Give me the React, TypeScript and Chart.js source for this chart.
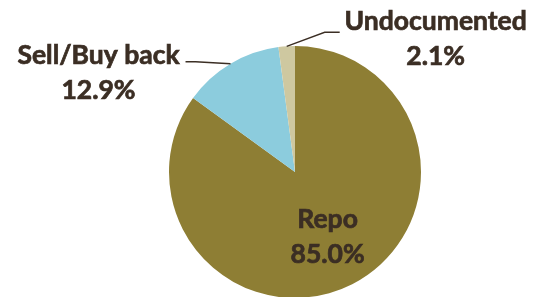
import React, { useEffect, useRef } from "react";
import { Chart, registerables } from "chart.js";

Chart.register(...registerables);

const categories = ["Repo", "Sell/Buy back", "Undocumented"];
const shares = [85.0, 12.9, 2.1];
const colors = ["#8E7E34", "#8CCCDD", "#CEC8A0"];

const TEXT = "#3B2E24";
const FONT = "bold 26.5px Lato, 'Open Sans', sans-serif";

const labelPlugin = {
  id: "pieLabels",
  afterDatasetsDraw(chart: any) {
    const ctx = chart.ctx;
    const meta = chart.getDatasetMeta(0);
    const arcs = meta.data;
    ctx.save();
    ctx.font = FONT;
    ctx.fillStyle = TEXT;
    ctx.strokeStyle = TEXT;
    ctx.textAlign = "center";
    ctx.textBaseline = "alphabetic";

    const text = (s: string, x: number, y: number) => {
      ctx.lineWidth = 0.7;
      ctx.fillText(s, x, y);
      ctx.strokeText(s, x, y);
    };

    const edge = (arc: any, rf: number) => {
      const mid = (arc.startAngle + arc.endAngle) / 2;
      return {
        x: arc.x + Math.cos(mid) * arc.outerRadius * rf,
        y: arc.y + Math.sin(mid) * arc.outerRadius * rf,
      };
    };

    // Repo: inside
    {
      const p = edge(arcs[0], 0.57);
      text(categories[0], p.x, p.y - 8);
      text(shares[0].toFixed(1) + "%", p.x, p.y + 27);
    }
    // Sell/Buy back: left, leader line
    {
      const p = edge(arcs[1], 1);
      ctx.lineWidth = 1.3;
      ctx.beginPath();
      ctx.moveTo(p.x, p.y);
      ctx.lineTo(p.x - 35, p.y - 2);
      ctx.lineTo(p.x - 45, p.y - 2);
      ctx.stroke();
      const lx = p.x - 132;
      text(categories[1], lx, p.y);
      text(shares[1].toFixed(1) + "%", lx, p.y + 35);
    }
    // Undocumented: top right, leader line
    {
      const p = edge(arcs[2], 1);
      ctx.lineWidth = 1.3;
      ctx.beginPath();
      ctx.moveTo(p.x, p.y);
      ctx.lineTo(p.x + 38, p.y - 14);
      ctx.lineTo(p.x + 53, p.y - 14);
      ctx.stroke();
      const lx = p.x + 149;
      text(categories[2], lx, p.y - 16);
      text(shares[2].toFixed(1) + "%", lx, p.y + 19);
    }
    ctx.restore();
  },
};

export default function App() {
  const ref = useRef<HTMLCanvasElement | null>(null);
  useEffect(() => {
    document.body.style.margin = "0";
    if (!ref.current) return;
    const chart = new Chart(ref.current, {
      type: "pie",
      data: {
        labels: categories,
        datasets: [
          {
            data: shares,
            backgroundColor: colors,
            borderWidth: 0,
          },
        ],
      },
      options: {
        responsive: false,
        animation: false,
        devicePixelRatio: 1,
        layout: { padding: { top: 46, bottom: 2, left: 169, right: 115 } },
        plugins: {
          legend: { display: false },
          tooltip: { enabled: false },
        },
      },
      plugins: [labelPlugin],
    });
    return () => chart.destroy();
  }, []);
  return (
    <div style={{ width: 536, height: 297, overflow: "hidden", background: "#fff" }}>
      <canvas ref={ref} width={536} height={300} style={{ display: "block" }} />
    </div>
  );
}
